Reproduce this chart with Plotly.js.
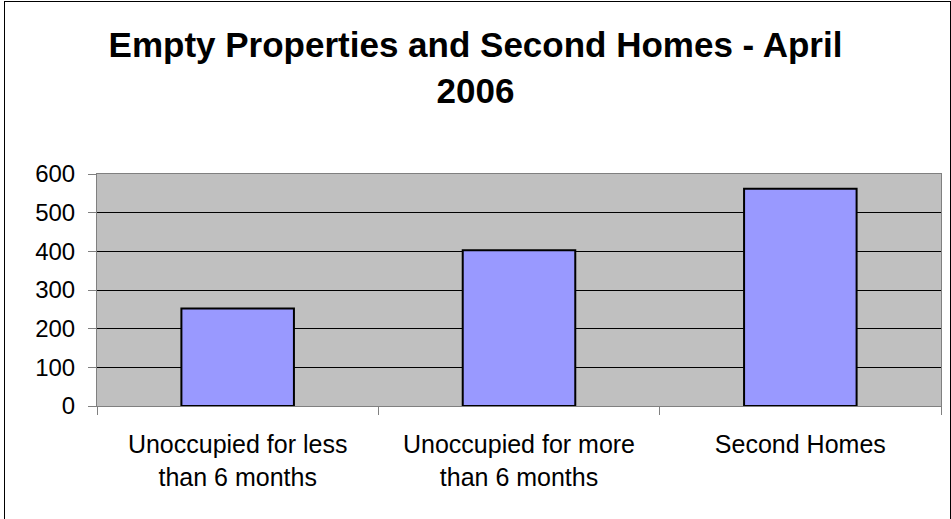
<!DOCTYPE html>
<html>
<head>
<meta charset="utf-8">
<script src="https://cdn.plot.ly/plotly-3.0.1.min.js"></script>
<style>
html,body{margin:0;padding:0;background:#fff;}
#wrap{position:relative;width:951px;height:519px;}
#chart{position:absolute;left:0;top:0;width:951px;height:519px;}
#frame{position:absolute;left:4px;top:1px;width:945px;height:520px;border:1px solid #000;pointer-events:none;}
</style>
</head>
<body>
<div id="wrap"><div id="chart"></div><div id="frame"></div></div>
<script>
const categories = ["Unoccupied for less<br>than 6 months", "Unoccupied for more<br>than 6 months", "Second Homes"];
const values = [252, 403, 562];
const yTicks = [0, 100, 200, 300, 400, 500, 600];
const chartTitle = "Empty Properties and Second Homes - April<br>2006";

const font = "Liberation Sans, Arial, sans-serif";

Plotly.newPlot("chart", [{
  type: "bar",
  x: categories,
  y: values,
  marker: {color: "#9999FF", line: {color: "#000000", width: 2}},
  hoverinfo: "x+y"
}], {
  width: 951, height: 519,
  margin: {l: 97, r: 10, t: 174, b: 113},
  paper_bgcolor: "#ffffff",
  plot_bgcolor: "#C0C0C0",
  bargap: 0.6,
  showlegend: false,
  title: {
    text: chartTitle,
    font: {family: font, size: 35, color: "#000", weight: "bold"},
    x: 0.5, xanchor: "center",
    y: 0.890, yanchor: "middle", yref: "container"
  },
  xaxis: {
    type: "category",
    showline: true, linecolor: "#808080", linewidth: 1, mirror: true,
    ticks: "outside", tickson: "boundaries", ticklen: 8, tickcolor: "#808080",
    showgrid: false,
    tickfont: {family: font, size: 25, color: "#000"},
    ticklabelstandoff: 16,
    fixedrange: true
  },
  yaxis: {
    range: [0, 600],
    tickvals: yTicks,
    showline: true, linecolor: "#808080", linewidth: 1, mirror: true,
    ticks: "outside", ticklen: 8, tickcolor: "#808080",
    showgrid: true, gridcolor: "#000000", gridwidth: 1,
    zeroline: false,
    tickfont: {family: font, size: 24, color: "#000"},
    ticklabelstandoff: 8,
    fixedrange: true
  }
}, {displayModeBar: false, staticPlot: true});
</script>
</body>
</html>
